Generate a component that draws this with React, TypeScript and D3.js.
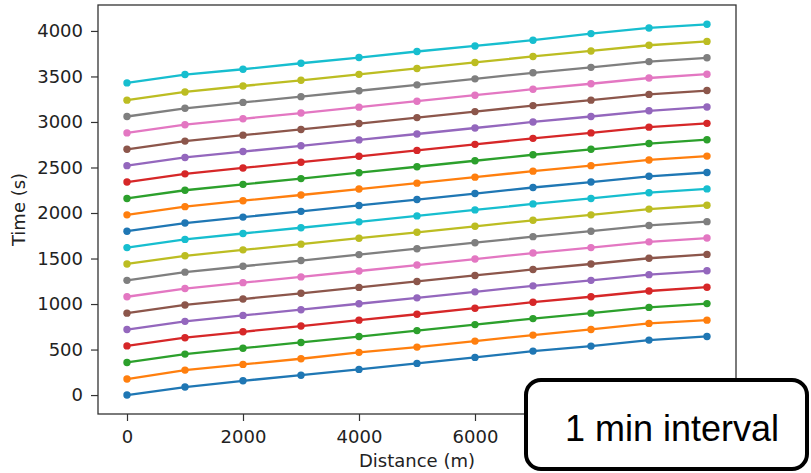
import React, { useEffect, useRef } from 'react';
import * as d3 from 'd3';

// distance of each sample point (m)
const distances = [0, 1000, 2000, 3000, 4000, 5000, 6000, 7000, 8000, 9000, 10000];

// time (s) at each distance, one array per departure
const run01 = [0, 88, 157, 218, 282, 348, 414, 483, 538, 604, 644];
const run02 = [176, 274, 337, 399, 469, 527, 593, 659, 721, 787, 823];
const run03 = [358, 450, 515, 578, 643, 708, 774, 840, 900, 963, 1005];
const run04 = [540, 630, 695, 758, 823, 888, 954, 1020, 1080, 1143, 1185];
const run05 = [720, 810, 875, 938, 1003, 1068, 1134, 1200, 1260, 1323, 1365];
const run06 = [900, 990, 1055, 1118, 1183, 1248, 1314, 1380, 1440, 1503, 1545];
const run07 = [1080, 1170, 1235, 1298, 1363, 1428, 1494, 1560, 1620, 1683, 1725];
const run08 = [1260, 1350, 1415, 1478, 1543, 1608, 1674, 1740, 1800, 1863, 1905];
const run09 = [1440, 1530, 1595, 1658, 1723, 1788, 1854, 1920, 1980, 2043, 2085];
const run10 = [1620, 1710, 1775, 1838, 1903, 1968, 2034, 2100, 2160, 2223, 2265];
const run11 = [1800, 1890, 1955, 2018, 2083, 2148, 2214, 2280, 2340, 2403, 2445];
const run12 = [1980, 2070, 2135, 2198, 2263, 2328, 2394, 2460, 2520, 2583, 2625];
const run13 = [2160, 2250, 2315, 2378, 2443, 2508, 2574, 2640, 2700, 2763, 2805];
const run14 = [2340, 2430, 2495, 2558, 2623, 2688, 2754, 2820, 2880, 2943, 2985];
const run15 = [2520, 2610, 2675, 2738, 2803, 2868, 2934, 3000, 3060, 3123, 3165];
const run16 = [2700, 2790, 2855, 2918, 2983, 3048, 3114, 3180, 3240, 3303, 3345];
const run17 = [2880, 2970, 3035, 3098, 3163, 3228, 3294, 3360, 3420, 3483, 3525];
const run18 = [3060, 3150, 3215, 3278, 3343, 3408, 3474, 3540, 3600, 3663, 3705];
const run19 = [3240, 3330, 3395, 3458, 3523, 3588, 3654, 3720, 3780, 3843, 3885];
const run20 = [3429, 3521, 3579, 3645, 3708, 3774, 3835, 3898, 3971, 4033, 4073];

const runs = [run01, run02, run03, run04, run05, run06, run07, run08, run09, run10,
  run11, run12, run13, run14, run15, run16, run17, run18, run19, run20];

const xTicks = [0, 2000, 4000, 6000, 8000, 10000];
// labels still visible beside the annotation box (8000 and 10000 sit under it)
const xTickLabels = ['0', '2000', '4000', '6000', '', ''];
const yTicks = [0, 500, 1000, 1500, 2000, 2500, 3000, 3500, 4000];

const tab10 = ['#1f77b4', '#ff7f0e', '#2ca02c', '#d62728', '#9467bd',
  '#8c564b', '#e377c2', '#7f7f7f', '#bcbd22', '#17becf'];

const App = () => {
  const svgRef = useRef<SVGSVGElement>(null);

  useEffect(() => {
    const width = 811;
    const height = 473;
    const left = 98, right = 736, top = 5, bottom = 414;

    const svg = d3.select(svgRef.current);
    svg.selectAll('*').remove();
    svg.attr('width', width).attr('height', height);

    svg.append('rect').attr('width', width).attr('height', height).attr('fill', '#fff');

    const xScale = d3.scaleLinear().domain([-500, 10500]).range([left, right]);
    const yScale = d3.scaleLinear().domain([-208, 4285]).range([bottom, top]);

    const font = 'DejaVu Sans, sans-serif';
    const fontSize = 18;

    const xAxis = svg.append('g')
      .attr('transform', `translate(0, ${bottom})`)
      .call(d3.axisBottom(xScale).tickValues(xTicks)
        .tickFormat((_, i) => xTickLabels[i]).tickSize(7).tickPadding(9));
    const yAxis = svg.append('g')
      .attr('transform', `translate(${left}, 0)`)
      .call(d3.axisLeft(yScale).tickValues(yTicks).tickFormat(d3.format('d')).tickSize(7).tickPadding(8));

    [xAxis, yAxis].forEach(ax => {
      ax.select('.domain').remove();
      ax.selectAll('line').attr('stroke', '#333').attr('stroke-width', 1.2);
      ax.selectAll('text').attr('font-family', font).attr('font-size', fontSize).attr('fill', '#222');
    });

    const line = d3.line<number>()
      .x((_, i) => xScale(distances[i]))
      .y(d => yScale(d));

    runs.forEach((run, k) => {
      const color = tab10[k % 10];
      svg.append('path')
        .datum(run)
        .attr('d', line)
        .attr('fill', 'none')
        .attr('stroke', color)
        .attr('stroke-width', 2.3);
      svg.append('g')
        .selectAll('circle')
        .data(run)
        .enter()
        .append('circle')
        .attr('cx', (_, i) => xScale(distances[i]))
        .attr('cy', d => yScale(d))
        .attr('r', 3.7)
        .attr('fill', color);
    });

    svg.append('rect')
      .attr('x', left).attr('y', top)
      .attr('width', right - left).attr('height', bottom - top)
      .attr('fill', 'none')
      .attr('stroke', '#333')
      .attr('stroke-width', 1.3);

    svg.append('text')
      .attr('x', (left + right) / 2)
      .attr('y', 467)
      .attr('text-anchor', 'middle')
      .attr('font-family', font)
      .attr('font-size', fontSize)
      .attr('fill', '#222')
      .text('Distance (m)');

    svg.append('text')
      .attr('transform', `translate(25, ${(top + bottom) / 2}) rotate(-90)`)
      .attr('text-anchor', 'middle')
      .attr('font-family', font)
      .attr('font-size', fontSize)
      .attr('fill', '#222')
      .text('Time (s)');

    // annotation box laid over the lower right corner
    svg.append('rect')
      .attr('x', 526).attr('y', 380)
      .attr('width', 281).attr('height', 89)
      .attr('rx', 15)
      .attr('fill', '#fff')
      .attr('stroke', '#000')
      .attr('stroke-width', 4);

    svg.append('text')
      .attr('x', 672)
      .attr('y', 441)
      .attr('text-anchor', 'middle')
      .attr('font-family', 'Liberation Sans, Arial, sans-serif')
      .attr('font-size', 36)
      .attr('fill', '#000')
      .text('1 min interval');
  }, []);

  return <svg ref={svgRef} style={{ position: 'absolute', left: 0, top: 0 }}></svg>;
};

export default App;
